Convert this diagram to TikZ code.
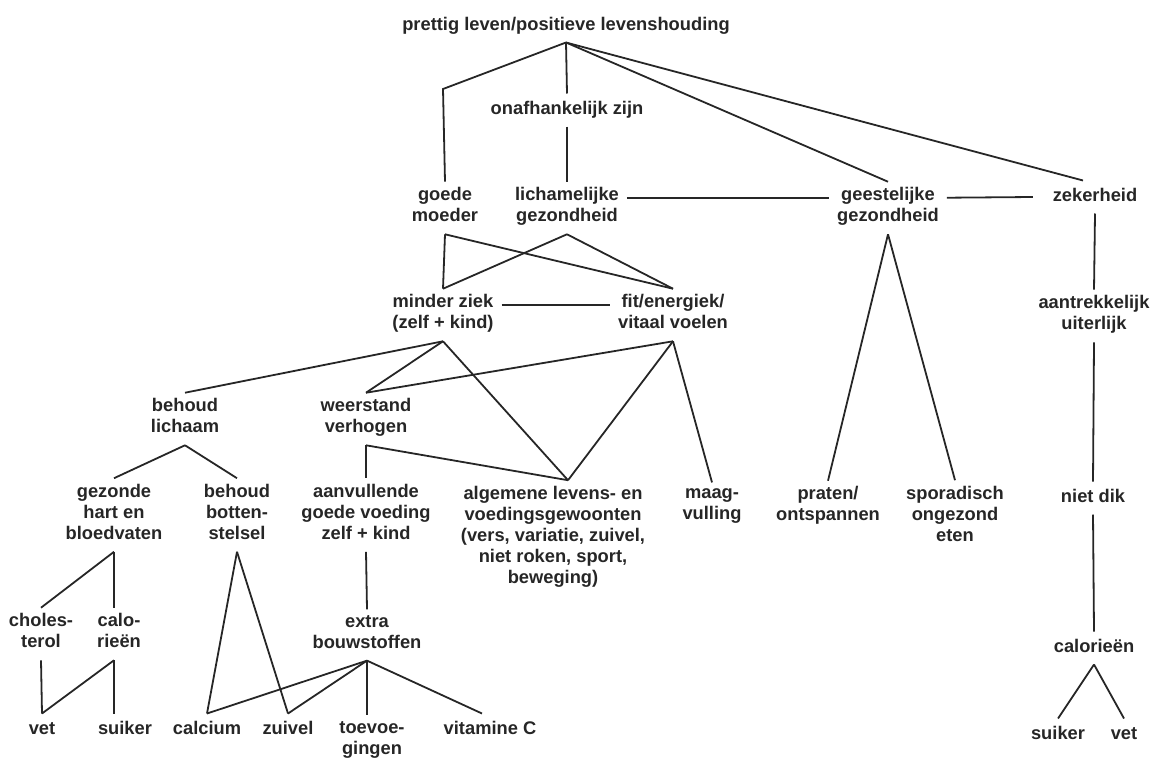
\documentclass[tikz,border=0pt]{standalone}
\usepackage{fontspec}
\setmainfont{Liberation Sans}
\tikzset{
  lbl/.style={align=center, inner sep=0pt, outer xsep=8pt, outer ysep=6pt,
    font=\fontsize{18.3}{21}\selectfont\bfseries, text=black!85,
    execute at begin node=\strut, execute at end node=\strut},
  link/.style={draw=black!85, line width=1.8pt}
}
\begin{document}
\begin{tikzpicture}[x=1pt,y=-1pt]
        \useasboundingbox (0,0) rectangle (1150,760);
        % top levels
        \node (top) [lbl] at (566,26) {prettig leven/positieve levenshouding};
        \node (onafh) [lbl] at (567,110) {onafhankelijk zijn};
        \node (moeder) [lbl] at (445,208) {goede\\moeder};
        \node (lichgez) [lbl] at (567,208) {lichamelijke\\gezondheid};
        \node (geestgez) [lbl] at (888,208) {geestelijke\\gezondheid};
        \node (zeker) [lbl] at (1095,197) {zekerheid};
        \coordinate (moederbend) at (443,89);

        \draw[link] (top.south) -- (moederbend) -- (moeder.north);
        \draw[link] (top.south) -- (onafh.north);
        \draw[link] (onafh.south) -- (lichgez.north);
        \draw[link] (top.south) -- (geestgez.north);
        \draw[link] (top.south) -- ([xshift=-12pt]zeker.north);
        \draw[link] ([yshift=-16pt]lichgez.north east) -- ([yshift=-16pt]geestgez.north west);
        \draw[link] ([yshift=-16pt]geestgez.north east) -- ([xshift=-12pt]zeker.west);

        % right column
        \node (aantrek) [lbl] at (1094,316) {aantrekkelijk\\uiterlijk};
        \node (nietdik) [lbl] at (1093,498) {niet dik};
        \node (calr) [lbl] at (1094,648) {calorieën};
        \node (suikr) [lbl] at (1058,735) {suiker};
        \node (vetr) [lbl] at (1124,735) {vet};

        \draw[link] (zeker.south) -- (aantrek.north);
        \draw[link] (aantrek.south) -- (nietdik.north);
        \draw[link] (nietdik.south) -- (calr.north);
        \draw[link] (calr.south) -- (suikr.north);
        \draw[link] (calr.south) -- (vetr.north);

        % second level
        \node (ziek) [lbl] at (443,315) {minder ziek\\(zelf + kind)};
        \node (fit) [lbl] at (673,315) {fit/energiek/\\vitaal voelen};

        \draw[link] (moeder.south) -- (ziek.north);
        \draw[link] (moeder.south) -- (fit.north);
        \draw[link] (lichgez.south) -- (ziek.north);
        \draw[link] (lichgez.south) -- (fit.north);
        \draw[link] ([yshift=-16pt]ziek.north east) -- ([yshift=-16pt]fit.north west);

        % third level
        \node (lichaam) [lbl] at (185,419) {behoud\\lichaam};
        \node (weerst) [lbl] at (366,419) {weerstand\\verhogen};
        \node (gezhart) [lbl] at (114,515) {gezonde\\hart en\\bloedvaten};
        \node (botten) [lbl] at (237,515) {behoud\\botten-\\stelsel};
        \node (aanv) [lbl] at (366,515) {aanvullende\\goede voeding\\zelf + kind};
        \node (algem) [lbl] at (553,538) {algemene levens- en\\voedingsgewoonten\\(vers, variatie, zuivel,\\niet roken, sport,\\beweging)};
        \node (maag) [lbl] at (712,507) {maag-\\vulling};
        \node (praten) [lbl] at (828,507) {praten/\\ontspannen};
        \node (spora) [lbl] at (955,517) {sporadisch\\ongezond\\eten};

        \draw[link] (ziek.south) -- (lichaam.north);
        \draw[link] (ziek.south) -- (weerst.north);
        \draw[link] (ziek.south) -- ([xshift=15pt]algem.north);
        \draw[link] (fit.south) -- (weerst.north);
        \draw[link] (fit.south) -- ([xshift=15pt]algem.north);
        \draw[link] (fit.south) -- (maag.north);
        \draw[link] (weerst.south) -- (aanv.north);
        \draw[link] (weerst.south) -- ([xshift=15pt]algem.north);
        \draw[link] (lichaam.south) -- (gezhart.north);
        \draw[link] (lichaam.south) -- (botten.north);
        \draw[link] (geestgez.south) -- (praten.north);
        \draw[link] (geestgez.south) -- (spora.north);

        % bottom levels
        \node (choles) [lbl] at (41,634) {choles-\\terol};
        \node (calo) [lbl] at (119,634) {calo-\\rieën};
        \node (extra) [lbl] at (367,635) {extra\\bouwstoffen};
        \node (vet) [lbl] at (42,730) {vet};
        \node (suiker) [lbl] at (125,730) {suiker};
        \node (calc) [lbl] at (207,730) {calcium};
        \node (zuivel) [lbl] at (288,730) {zuivel};
        \node (toev) [lbl] at (372,741) {toevoe-\\gingen};
        \node (vitc) [lbl] at (490,730) {vitamine C};

        \draw[link] (gezhart.south) -- (choles.north);
        \draw[link] (gezhart.south) -- (calo.north -| gezhart.south);
        \draw[link] (choles.south) -- (vet.north);
        \draw[link] (calo.south -| gezhart.south) -- (vet.north);
        \draw[link] (calo.south -| gezhart.south) -- (suiker.north -| gezhart.south);
        \draw[link] (botten.south) -- (calc.north);
        \draw[link] (botten.south) -- (zuivel.north);
        \draw[link] (aanv.south) -- (extra.north);
        \draw[link] (extra.south) -- (calc.north);
        \draw[link] (extra.south) -- (zuivel.north);
        \draw[link] (extra.south) -- (toev.north -| extra.south);
        \draw[link] (extra.south) -- ([xshift=-8pt]vitc.north);
\end{tikzpicture}
\end{document}
